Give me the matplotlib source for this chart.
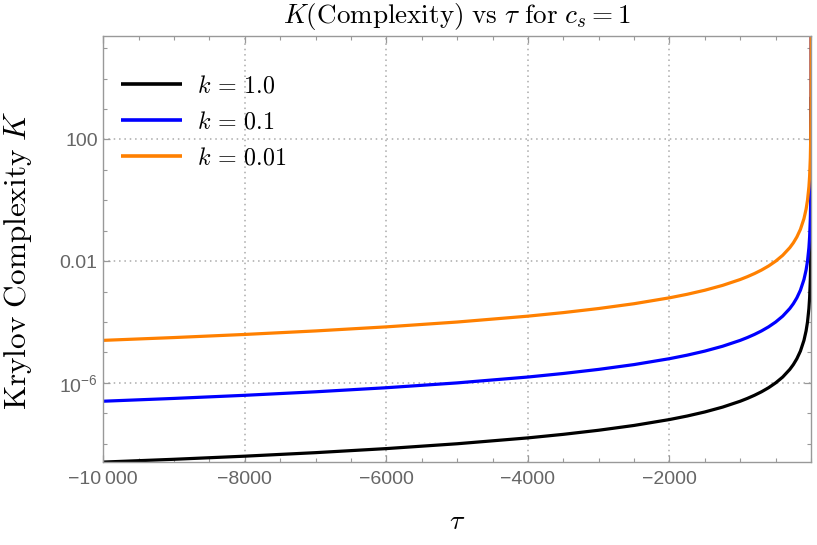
import matplotlib
matplotlib.use("Agg")
import matplotlib.pyplot as plt
from matplotlib.ticker import FixedLocator, FuncFormatter, NullFormatter

plt.rcParams['font.family'] = ['Liberation Sans', 'DejaVu Sans']
plt.rcParams['mathtext.fontset'] = 'custom'
plt.rcParams['mathtext.rm'] = 'Liberation Sans'
plt.rcParams['mathtext.it'] = 'Liberation Sans:italic'

# data
tau = [-10000, -9000, -8000, -7000, -6000, -5000, -4000, -3500, -3000, -2500,
       -2000, -1750, -1500, -1250, -1000, -900, -800, -700, -600, -500,
       -400, -300, -250, -200, -150, -100, -70, -50, -30, -20,
       -10, -5, -2, -1, -0.5, -0.2, -0.1, -0.05, -0.02, -0.01]
K_k1 = [2.50e-9, 3.09e-9, 3.91e-9, 5.10e-9, 6.94e-9, 1.00e-8, 1.56e-8, 2.04e-8, 2.78e-8, 4.00e-8,
        6.25e-8, 8.16e-8, 1.11e-7, 1.60e-7, 2.50e-7, 3.09e-7, 3.91e-7, 5.10e-7, 6.94e-7, 1.00e-6,
        1.56e-6, 2.78e-6, 4.00e-6, 6.25e-6, 1.11e-5, 2.50e-5, 5.10e-5, 1.00e-4, 2.78e-4, 6.25e-4,
        2.50e-3, 1.00e-2, 6.25e-2, 2.50e-1, 1.0, 6.25, 25.0, 100.0, 625.0, 2500.0]
K_k01 = [2.50e-7, 3.09e-7, 3.91e-7, 5.10e-7, 6.94e-7, 1.00e-6, 1.56e-6, 2.04e-6, 2.78e-6, 4.00e-6,
         6.25e-6, 8.16e-6, 1.11e-5, 1.60e-5, 2.50e-5, 3.09e-5, 3.91e-5, 5.10e-5, 6.94e-5, 1.00e-4,
         1.56e-4, 2.78e-4, 4.00e-4, 6.25e-4, 1.11e-3, 2.50e-3, 5.10e-3, 1.00e-2, 2.78e-2, 6.25e-2,
         2.50e-1, 1.0, 6.25, 25.0, 100.0, 625.0, 2500.0, 1.0e4, 6.25e4, 2.5e5]
K_k001 = [2.50e-5, 3.09e-5, 3.91e-5, 5.10e-5, 6.94e-5, 1.00e-4, 1.56e-4, 2.04e-4, 2.78e-4, 4.00e-4,
          6.25e-4, 8.16e-4, 1.11e-3, 1.60e-3, 2.50e-3, 3.09e-3, 3.91e-3, 5.10e-3, 6.94e-3, 1.00e-2,
          1.56e-2, 2.78e-2, 4.00e-2, 6.25e-2, 1.11e-1, 2.50e-1, 5.10e-1, 1.0, 2.78, 6.25,
          25.0, 100.0, 625.0, 2500.0, 1.0e4, 6.25e4, 2.5e5, 1.0e6, 6.25e6, 2.5e7]
labels = [r'$k\,=\,1.0$', r'$k\,=\,0.1$', r'$k\,=\,0.01$']
colors = ['#000000', '#0000ff', '#ff8000']

xmajor = [-10000, -8000, -6000, -4000, -2000]
ymajor = [1e-6, 1e-2, 1e2]
ymajor_labels = [r'$10^{-6}$', '0.01', '100']

fig = plt.figure(figsize=(8.17, 5.45), dpi=100)
ax = fig.add_axes([0.1264, 0.1517, 0.8663, 0.7823])

for y, lab, c in zip([K_k1, K_k01, K_k001], labels, colors):
    ax.plot(tau, y, color=c, lw=2.3, label=lab, solid_capstyle='butt')

ax.set_yscale('log')
ax.set_xlim(-10000, 0)
ax.set_ylim(10**-8.61, 10**5.4)

ax.xaxis.set_major_locator(FixedLocator(xmajor))
ax.xaxis.set_minor_locator(FixedLocator([-10000 + 500 * i for i in range(21)]))
ax.xaxis.set_major_formatter(FuncFormatter(
    lambda v, p: ('\u2212' + ('10\u2009000' if abs(v) >= 10000 else str(int(abs(v))))) if v < 0 else str(int(v))))
ax.yaxis.set_major_locator(FixedLocator(ymajor))
ax.yaxis.set_major_formatter(FuncFormatter(lambda v, p: ymajor_labels[ymajor.index(v)] if v in ymajor else ''))
ax.yaxis.set_minor_locator(FixedLocator([10.0 ** e for e in range(-8, 6)]))
ax.yaxis.set_minor_formatter(NullFormatter())

ax.grid(True, which='major', color='#aaaaaa', linestyle=(0, (1, 2.5)), lw=1.1)
for s in ax.spines.values():
    s.set_color('#999999')
    s.set_linewidth(1.0)
ax.tick_params(which='both', direction='in', top=True, right=True, color='#999999',
               labelcolor='#666666', labelsize=14)
ax.tick_params(which='major', length=5, width=0.9)
ax.tick_params(which='minor', length=3, width=0.8)
ax.tick_params(axis='x', pad=6.5)
ax.tick_params(axis='y', pad=4)

t = ax.set_title(r'$K(\mathrm{Complexity})\ \mathrm{vs}\ \tau\ \mathrm{for}\ c_s = 1$', fontsize=19.5, pad=9)
t.set_math_fontfamily('cm')
xl = ax.set_xlabel(r'$\tau$', fontsize=20, labelpad=15)
xl.set_math_fontfamily('cm')
yl = ax.set_ylabel(r'$\mathrm{Krylov\ Complexity}\ K$', fontsize=22.5)
yl.set_math_fontfamily('cm')
ax.yaxis.set_label_coords(-0.098, 0.475)

leg = ax.legend(loc='upper left', bbox_to_anchor=(0.025, 0.908), frameon=False, fontsize=17.3,
                handlelength=2.54, handletextpad=0.62, labelspacing=0.58,
                borderaxespad=0.0, borderpad=0.0)
for tx in leg.get_texts():
    tx.set_math_fontfamily('cm')
for ln in leg.get_lines():
    ln.set_linewidth(2.6)

fig.savefig('out.png', dpi=100)
